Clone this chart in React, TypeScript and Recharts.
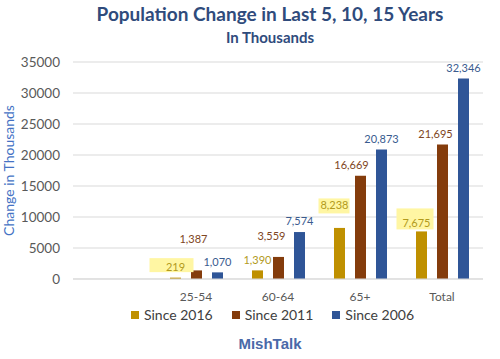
import { BarChart, Bar, XAxis, YAxis, CartesianGrid, Legend } from "recharts";

const ageGroups = ["", "25-54", "60-64", "65+", "Total"];
const since2016 = [null, 219, 1390, 8238, 7675];
const since2011 = [null, 1387, 3559, 16669, 21695];
const since2006 = [null, 1070, 7574, 20873, 32346];
const yTicks = [0, 5000, 10000, 15000, 20000, 25000, 30000, 35000];

const series = [
  { key: "since2016", name: "Since 2016", fill: "#BF9000", text: "#B29A1C", values: since2016 },
  { key: "since2011", name: "Since 2011", fill: "#843C0C", text: "#7E4522", values: since2011 },
  { key: "since2006", name: "Since 2006", fill: "#2F5597", text: "#3A5B8F", values: since2006 },
];

const data = ageGroups.map((group, i) => ({
  group,
  since2016: since2016[i],
  since2011: since2011[i],
  since2006: since2006[i],
}));

type Tweak = { dx?: number; dy?: number; box?: [number, number, number, number] };

// hand nudges so the labels sit where the original put them (keyed by category index)
const labelTweaks: Record<string, Record<number, Tweak>> = {
  since2016: {
    1: { box: [-26, -9, 44, 14] },
    3: { dx: -5, dy: -12, box: [-16, -7, 31, 15] },
    4: { dx: -5, dy: 2.5, box: [-20, -15, 37, 21] },
  },
  since2011: {
    1: { dx: -3, dy: -21 },
    2: { dx: -7, dy: -10 },
    3: { dx: -9 },
    4: { dx: -7 },
  },
  since2006: {},
};

const font = "Lato, 'Open Sans', sans-serif";

function makeLabel(key: string, color: string, values: (number | null)[]) {
  return (props: any) => {
    const vb = props.viewBox ?? props;
    if (props.value == null || vb.x == null) return null;
    // label index skips empty entries, so look the category up by value
    const idx = values.indexOf(Number(props.value));
    const t = labelTweaks[key]?.[idx] ?? {};
    const cx = vb.x + vb.width / 2 + (t.dx ?? 0);
    const cy = vb.y - 10.5 + (t.dy ?? 0);
    return (
      <g>
        {t.box && (
          <rect
            x={cx + t.box[0]}
            y={cy + t.box[1]}
            width={t.box[2]}
            height={t.box[3]}
            fill="#FFF6A3"
          />
        )}
        <text
          x={cx}
          y={cy}
          dy="0.35em"
          textAnchor="middle"
          fill={color}
          fontSize={11}
          fontFamily={font}
        >
          {Number(props.value).toLocaleString("en-US")}
        </text>
      </g>
    );
  };
}

function LegendRow() {
  return (
    <div
      style={{
        display: "flex",
        justifyContent: "center",
        paddingLeft: 45,
        gap: 19,
        fontFamily: font,
        fontSize: 14,
        color: "#404040",
      }}
    >
      {series.map((s) => (
        <div key={s.key} style={{ display: "flex", alignItems: "center" }}>
          <span
            style={{ width: 8, height: 8, background: s.fill, marginRight: 5, display: "inline-block" }}
          />
          {s.name}
        </div>
      ))}
    </div>
  );
}

export default function App() {
  return (
    <div
      style={{
        position: "absolute",
        left: 0,
        top: 0,
        width: 500,
        height: 359,
        background: "#fff",
        overflow: "hidden",
      }}
    >
      <div
        style={{
          position: "absolute",
          left: 20,
          top: 2,
          width: 500,
          textAlign: "center",
          fontFamily: font,
          fontWeight: 700,
          fontSize: 19,
          color: "#2F4B7C",
          lineHeight: "24px",
        }}
      >
        Population Change in Last 5, 10, 15 Years
      </div>
      <div
        style={{
          position: "absolute",
          left: 20,
          top: 27,
          width: 500,
          textAlign: "center",
          fontFamily: font,
          fontWeight: 700,
          fontSize: 15,
          color: "#2F4B7C",
          lineHeight: "20px",
        }}
      >
        In Thousands
      </div>
      <BarChart
        width={500}
        height={359}
        data={data}
        margin={{ top: 62, right: 17, bottom: 50, left: 0 }}
        barGap={10}
      >
        <CartesianGrid vertical={false} stroke="#D9D9D9" />
        <XAxis
          dataKey="group"
          axisLine={{ stroke: "#D9D9D9" }}
          tickLine={false}
          tickMargin={7}
          height={30}
          tick={{ fill: "#595959", fontSize: 12, fontFamily: font }}
        />
        <YAxis
          width={73}
          domain={[0, 35000]}
          ticks={yTicks}
          axisLine={false}
          tickLine={false}
          tickMargin={7}
          tick={{ fill: "#595959", fontSize: 13.5, fontFamily: font }}
          label={{
            content: (p: any) => {
              const vb = p.viewBox;
              const cx = 9;
              const cy = vb.y + vb.height / 2;
              return (
                <text
                  x={cx}
                  y={cy}
                  dy="0.35em"
                  textAnchor="middle"
                  transform={`rotate(-90 ${cx} ${cy})`}
                  fill="#4472C4"
                  fontSize={14}
                  fontFamily={font}
                >
                  Change in Thousands
                </text>
              );
            },
          }}
        />
        <Legend
          layout="vertical"
          verticalAlign="middle"
          align="center"
          wrapperStyle={{ top: 306, left: 0, width: 500 }}
          content={() => <LegendRow />}
        />
        {series.map((s) => (
          <Bar
            key={s.key}
            dataKey={s.key}
            name={s.name}
            fill={s.fill}
            barSize={11}
            isAnimationActive={false}
            label={makeLabel(s.key, s.text, s.values)}
          />
        ))}
      </BarChart>
      <div
        style={{
          position: "absolute",
          left: 20,
          top: 334,
          width: 500,
          textAlign: "center",
          fontFamily: "'Liberation Sans', Arial, sans-serif",
          fontWeight: 700,
          fontSize: 15,
          color: "#4A69A8",
          lineHeight: "20px",
        }}
      >
        MishTalk
      </div>
    </div>
  );
}
